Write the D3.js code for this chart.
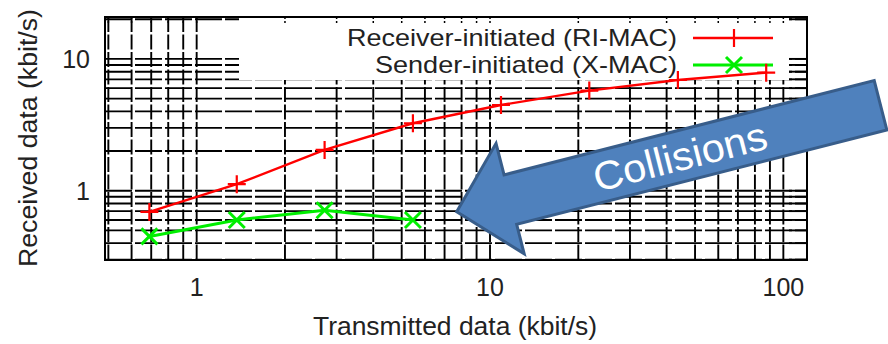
<!DOCTYPE html>
<html>
<head>
<meta charset="utf-8">
<script src="https://cdn.jsdelivr.net/npm/d3@7"></script>
<style>
body { margin: 0; background: #fff; }
text { font-family: "Liberation Sans", Arial, sans-serif; }
</style>
</head>
<body>
<div id="chart"></div>
<script>
// transmitted rate (x) and received rate (y) per protocol
var txRate = [0.69, 1.37, 2.73, 5.46, 10.9, 21.8, 43.7, 87.4];
var riMac = [0.69, 1.12, 2.04, 3.25, 4.47, 5.75, 6.92, 7.87];
var xMac = [0.45, 0.60, 0.71, 0.60];

var seriesNames = ["Receiver-initiated (RI-MAC)", "Sender-initiated (X-MAC)"];
var xTickLabels = [1, 10, 100];
var yTickLabels = [1, 10];
var xGrid = [0.5, 0.6, 0.7, 0.8, 0.9, 1, 2, 3, 4, 5, 6, 7, 8, 9, 10, 20, 30, 40, 50, 60, 70, 80, 90, 100];
var yGrid = [0.3, 0.4, 0.5, 0.6, 0.7, 0.8, 0.9, 1, 2, 3, 4, 5, 6, 7, 8, 9, 10, 20];

var width = 888;
var height = 344;
// plot frame (don't call it "top": window.top is read-only)
var pL = 105, pR = 807, pT = 17, pB = 260;

var svg = d3.select("#chart").append("svg")
    .attr("width", width)
    .attr("height", height);

svg.append("rect").attr("width", width).attr("height", height).attr("fill", "#fff");

var x = d3.scaleLog().domain([0.487, 120.4]).range([pL, pR]);
var y = d3.scaleLog().domain([0.298, 20.8]).range([pB, pT]);

// dashed grid, major and minor
svg.append("g").selectAll("line")
    .data(xGrid)
    .enter().append("line")
    .attr("x1", d => x(d)).attr("x2", d => x(d))
    .attr("y1", pT).attr("y2", pB)
    .attr("stroke", "#000")
    .attr("stroke-width", 1.9)
    .attr("stroke-dasharray", "15,2.5");

svg.append("g").selectAll("line")
    .data(yGrid)
    .enter().append("line")
    .attr("x1", pL).attr("x2", pR)
    .attr("y1", d => y(d)).attr("y2", d => y(d))
    .attr("stroke", "#000")
    .attr("stroke-width", 1.9)
    .attr("stroke-dasharray", "27,3");

// opaque key box
svg.append("rect")
    .attr("x", 239).attr("y", pT + 1)
    .attr("width", 550).attr("height", 62)
    .attr("fill", "#fff");

// mirror ticks on top and right border
svg.append("g").selectAll("line")
    .data(xGrid)
    .enter().append("line")
    .attr("x1", d => x(d)).attr("x2", d => x(d))
    .attr("y1", pT).attr("y2", pT + 8)
    .attr("stroke", "#000")
    .attr("stroke-width", 1.5)
    .attr("stroke-dasharray", "2,2");

svg.append("g").selectAll("line")
    .data(yGrid)
    .enter().append("line")
    .attr("x1", pR - 18).attr("x2", pR)
    .attr("y1", d => y(d)).attr("y2", d => y(d))
    .attr("stroke", "#000")
    .attr("stroke-width", 1.9);

svg.append("rect")
    .attr("x", pL).attr("y", pT)
    .attr("width", pR - pL).attr("height", pB - pT)
    .attr("fill", "none")
    .attr("stroke", "#000")
    .attr("stroke-width", 2);

// tick labels
svg.append("g").selectAll("text")
    .data(xTickLabels)
    .enter().append("text")
    .attr("x", d => x(d))
    .attr("y", 296)
    .attr("text-anchor", "middle")
    .attr("font-size", 25)
    .attr("fill", "#222")
    .text(d => d);

svg.append("g").selectAll("text")
    .data(yTickLabels)
    .enter().append("text")
    .attr("x", 90)
    .attr("y", d => y(d) + 9)
    .attr("text-anchor", "end")
    .attr("font-size", 25)
    .attr("fill", "#222")
    .text(d => d);

svg.append("text")
    .attr("x", 313).attr("y", 335)
    .attr("font-size", 25)
    .attr("fill", "#222")
    .attr("textLength", 284)
    .attr("lengthAdjust", "spacingAndGlyphs")
    .text("Transmitted data (kbit/s)");

svg.append("text")
    .attr("transform", "translate(37,267) rotate(-90)")
    .attr("font-size", 25)
    .attr("fill", "#222")
    .attr("textLength", 258)
    .attr("lengthAdjust", "spacingAndGlyphs")
    .text("Received data (kbit/s)");

// legend
var legendY = [38, 65];
var colors = ["#ff0000", "#00ee00"];
var widths = [2.4, 3];

seriesNames.forEach(function(name, i) {
    svg.append("text")
        .attr("x", 677).attr("y", legendY[i] + 8)
        .attr("text-anchor", "end")
        .attr("font-size", 24)
        .attr("fill", "#222")
        .attr("textLength", i == 0 ? 330 : 302)
        .attr("lengthAdjust", "spacingAndGlyphs")
        .text(name);
    svg.append("line")
        .attr("x1", 693).attr("x2", 773)
        .attr("y1", legendY[i]).attr("y2", legendY[i])
        .attr("stroke", colors[i])
        .attr("stroke-width", widths[i]);
});

function plus(g, cx, cy, r, c, w) {
    g.append("path")
        .attr("d", `M${cx - r},${cy}H${cx + r}M${cx},${cy - r}V${cy + r}`)
        .attr("stroke", c).attr("stroke-width", w).attr("fill", "none");
}
function cross(g, cx, cy, r, c, w) {
    g.append("path")
        .attr("d", `M${cx - r},${cy - r}L${cx + r},${cy + r}M${cx - r},${cy + r}L${cx + r},${cy - r}`)
        .attr("stroke", c).attr("stroke-width", w).attr("fill", "none");
}

plus(svg, 734, legendY[0], 9, colors[0], 2.2);
cross(svg, 734, legendY[1], 8, colors[1], 3);

// data
var ri = riMac.map((v, i) => [txRate[i], v]);
var xm = xMac.map((v, i) => [txRate[i], v]);
var line = d3.line().x(d => x(d[0])).y(d => y(d[1]));

svg.append("path").datum(ri)
    .attr("d", line)
    .attr("fill", "none")
    .attr("stroke", colors[0])
    .attr("stroke-width", widths[0]);
svg.append("path").datum(xm)
    .attr("d", line)
    .attr("fill", "none")
    .attr("stroke", colors[1])
    .attr("stroke-width", widths[1]);

var markers = svg.append("g");
ri.forEach(d => plus(markers, x(d[0]), y(d[1]), 9, colors[0], 2.2));
xm.forEach(d => cross(markers, x(d[0]), y(d[1]), 8, colors[1], 3));

// callout arrow: tip, angle, then outline in its own frame
var tip = [456.7, 211.7];
var angle = -14.3;
var headLen = 55, headHalf = 56.5, shaftTop = -24, shaftBot = 27, arrowLen = 437;
var outline = [[0, 0], [headLen, -headHalf], [headLen, shaftTop], [arrowLen, shaftTop],
    [arrowLen, shaftBot], [headLen, shaftBot], [headLen, headHalf + 1]];

var arrow = svg.append("g")
    .attr("transform", `translate(${tip[0]},${tip[1]}) rotate(${angle})`);
arrow.append("path")
    .attr("d", "M" + outline.join("L") + "Z")
    .attr("fill", "#4f81bd")
    .attr("stroke", "#385d8a")
    .attr("stroke-width", 3)
    .attr("stroke-linejoin", "miter");
arrow.append("text")
    .attr("x", 230).attr("y", 15.6)
    .attr("text-anchor", "middle")
    .attr("font-family", "'Open Sans', 'Noto Sans', sans-serif")
    .attr("font-size", 40)
    .attr("fill", "#fff")
    .attr("textLength", 178)
    .attr("lengthAdjust", "spacingAndGlyphs")
    .text("Collisions");
</script>
</body>
</html>
